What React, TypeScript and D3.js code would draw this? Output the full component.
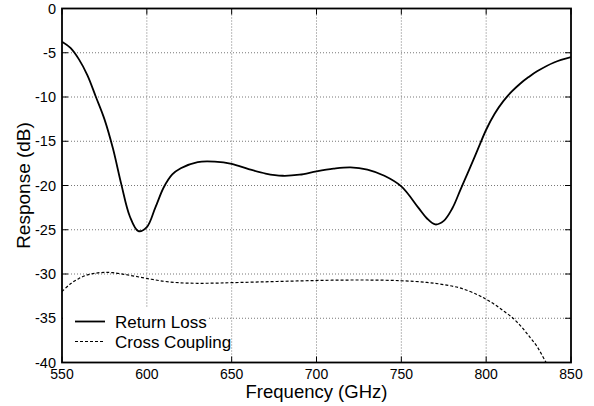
import React from "react";
import * as d3 from "d3";

const rlFreq = [550, 555, 560, 565, 570, 575, 580, 585, 590, 595, 600, 605, 610, 615, 620, 630, 640, 650, 660, 670, 680, 690, 700, 710, 720, 730, 740, 750, 760, 765, 770, 775, 780, 785, 790, 795, 800, 805, 810, 815, 820, 825, 830, 840, 850];
const rlVal = [-3.75, -4.45, -5.75, -7.55, -10.0, -12.5, -15.8, -19.9, -23.5, -25.15, -24.7, -22.5, -20.2, -18.75, -18.05, -17.35, -17.3, -17.55, -18.15, -18.65, -18.9, -18.78, -18.4, -18.1, -17.95, -18.2, -18.9, -20.1, -22.5, -23.7, -24.4, -24.0, -22.6, -20.4, -18.2, -15.95, -13.7, -11.9, -10.5, -9.4, -8.5, -7.75, -7.1, -6.1, -5.5];

const ccFreq = [550, 555, 560, 565, 570, 575, 580, 590, 600, 610, 620, 630, 640, 650, 670, 690, 710, 730, 750, 765, 775, 785, 795, 800, 805, 810, 815, 820, 825, 830, 835, 840];
const ccVal = [-32.0, -31.1, -30.5, -30.1, -29.9, -29.82, -29.85, -30.15, -30.5, -30.82, -31.0, -31.05, -31.03, -30.98, -30.88, -30.78, -30.7, -30.68, -30.76, -30.95, -31.2, -31.6, -32.35, -32.86, -33.45, -34.15, -34.85, -35.8, -36.95, -38.2, -39.9, -41.6];

const xTicks = [550, 600, 650, 700, 750, 800, 850];
const yTicks = [0, -5, -10, -15, -20, -25, -30, -35, -40];
const seriesNames = ["Return Loss", "Cross Coupling"];

const W = 594, H = 406;
const L = 62, R = 571, T = 8.5, B = 362.5;
const FONT = "'Liberation Sans', Arial, sans-serif";

export default function App() {
  const x = d3.scaleLinear().domain([550, 850]).range([L, R]);
  const y = d3.scaleLinear().domain([-40, 0]).range([B, T]);
  const line = d3.line<[number, number]>().x(d => x(d[0])).y(d => y(d[1])).curve(d3.curveCatmullRom.alpha(0.5));
  const rl = line(rlFreq.map((f, i) => [f, rlVal[i]] as [number, number])) || "";
  const cc = line(ccFreq.map((f, i) => [f, ccVal[i]] as [number, number])) || "";
  const tickLen = 6;
  return (
    <svg width={W} height={H} style={{ position: "absolute", left: 0, top: 0, background: "#fff" }} fontFamily={FONT}>
      <defs>
        <clipPath id="plotclip"><rect x={L} y={T} width={R - L} height={B - T} /></clipPath>
      </defs>
      <rect x={0} y={0} width={W} height={H} fill="#fff" />
      {xTicks.slice(1, -1).map(t => (
        <line key={"gx" + t} x1={x(t)} x2={x(t)} y1={T} y2={B} stroke="#777" strokeWidth={1} strokeDasharray="1,2" />
      ))}
      {yTicks.slice(1, -1).map(t => (
        <line key={"gy" + t} x1={L} x2={R} y1={y(t)} y2={y(t)} stroke="#777" strokeWidth={1} strokeDasharray="1,2" />
      ))}
      {xTicks.map(t => (
        <g key={"tx" + t}>
          <line x1={x(t)} x2={x(t)} y1={B} y2={B - tickLen} stroke="#000" strokeWidth={1} />
          <line x1={x(t)} x2={x(t)} y1={T} y2={T + tickLen} stroke="#000" strokeWidth={1} />
          <text x={x(t)} y={378.5} textAnchor="middle" fontSize={14} fill="#000">{t}</text>
        </g>
      ))}
      {yTicks.map(t => (
        <g key={"ty" + t}>
          <line x1={L} x2={L + tickLen} y1={y(t)} y2={y(t)} stroke="#000" strokeWidth={1} />
          <line x1={R} x2={R - tickLen} y1={y(t)} y2={y(t)} stroke="#000" strokeWidth={1} />
          <text x={56} y={y(t)} dy="0.36em" textAnchor="end" fontSize={14.5} fill="#000">{t}</text>
        </g>
      ))}
      <g clipPath="url(#plotclip)">
        <path d={rl} fill="none" stroke="#000" strokeWidth={1.8} />
        <path d={cc} fill="none" stroke="#000" strokeWidth={1.2} strokeDasharray="3,2" />
      </g>
      <rect x={L + 1} y={307} width={144} height={B - 307} fill="#fff" />
      <line x1={75} x2={105} y1={321.5} y2={321.5} stroke="#000" strokeWidth={1.8} />
      <text x={115} y={321.5} dy="0.36em" fontSize={17} fill="#000">{seriesNames[0]}</text>
      <line x1={75} x2={105} y1={341.5} y2={341.5} stroke="#000" strokeWidth={1.2} strokeDasharray="3,2" />
      <text x={115} y={341.5} dy="0.36em" fontSize={17} fill="#000">{seriesNames[1]}</text>
      <rect x={L} y={T} width={R - L} height={B - T} fill="none" stroke="#000" strokeWidth={1.8} />
      <text x={(L + R) / 2} y={398} textAnchor="middle" fontSize={18.5} fill="#000">Frequency (GHz)</text>
      <text transform={`translate(30,${(T + B) / 2}) rotate(-90)`} textAnchor="middle" fontSize={19} fill="#000">Response (dB)</text>
    </svg>
  );
}
